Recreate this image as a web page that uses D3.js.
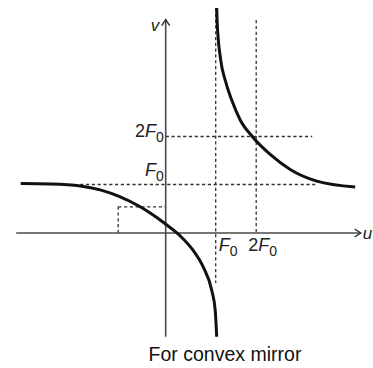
<!DOCTYPE html>
<html>
<head>
<meta charset="utf-8">
<script src="https://cdn.jsdelivr.net/npm/d3@7"></script>
<style>
html,body{margin:0;padding:0;background:#fff;}
svg{display:block;font-family:"Liberation Sans",Arial,Helvetica,sans-serif;}
</style>
</head>
<body>
<svg id="chart" width="373" height="368"></svg>
<script>
// Right branch of the v–u curve (u, v in units of F0)
const rightBranch = [
  [1.02, 4.64], [1.03, 4.33], [1.10, 3.57], [1.19, 3.15], [1.32, 2.74],
  [1.49, 2.33], [1.74, 1.98], [2.09, 1.62], [2.49, 1.31], [3.02, 1.07], [3.79, 0.95]
];
// Left branch
const leftBranch = [
  [-2.90, 1.02], [-2.31, 1.01], [-1.71, 0.97], [-1.31, 0.89], [-0.92, 0.75],
  [-0.51, 0.54], [-0.31, 0.41], [-0.01, 0.19], [0.29, -0.06], [0.55, -0.36],
  [0.75, -0.70], [0.92, -1.18], [0.99, -1.59], [1.02, -2.14]
];
// Tick positions (in F0 units) and labels
const xTickValues = [1, 1.81];
const xTickLabels = [["", "F", "0"], ["2", "F", "0"]];
const yTickValues = [1, 1.99];
const yTickLabels = [["", "F", "0"], ["2", "F", "0"]];
// Guide lines: [u1, v1, u2, v2]
const guides = [
  [1, 4.64, 1, -1.03],      // u = F0 vertical
  [1.81, 4.39, 1.81, 0],    // u = 2F0 vertical
  [-1.71, 1, 2.99, 1],      // v = F0 horizontal
  [0, 1.99, 2.93, 1.99],    // v = 2F0 horizontal
  [-0.95, 0, -0.95, 0.54],  // small box vertical
  [-0.95, 0.54, 0, 0.54]    // small box horizontal
];
const axisExtent = { uMin: -2.99, uMax: 3.9, vMin: -2.14, vMax: 4.4 };
const caption = "For convex mirror";

const svg = d3.select("#chart");
const x = d3.scaleLinear().domain([-3, 4]).range([15.7, 365.7]);
const y = d3.scaleLinear().domain([-2.2, 4.7]).range([339.7, 5.05]);

// dashed guides
svg.append("g").selectAll("line").data(guides).join("line")
  .attr("x1", d => x(d[0])).attr("y1", d => y(d[1]))
  .attr("x2", d => x(d[2])).attr("y2", d => y(d[3]))
  .attr("stroke", "#333").attr("stroke-width", 1.3)
  .attr("stroke-dasharray", "3.2,2.6");

// axes
const axisColor = "#4a4a4a";
svg.append("line")
  .attr("x1", x(axisExtent.uMin)).attr("x2", x(axisExtent.uMax))
  .attr("y1", y(0)).attr("y2", y(0))
  .attr("stroke", axisColor).attr("stroke-width", 1.6);
svg.append("line")
  .attr("x1", x(0)).attr("x2", x(0))
  .attr("y1", y(axisExtent.vMin)).attr("y2", y(axisExtent.vMax))
  .attr("stroke", axisColor).attr("stroke-width", 1.6);
// arrowheads
const ax = x(axisExtent.uMax), ay = y(0);
svg.append("path")
  .attr("d", `M${ax-6},${ay-4}L${ax},${ay}L${ax-6},${ay+4}`)
  .attr("fill", "none").attr("stroke", "#333").attr("stroke-width", 1.5);
const bx = x(0), by = y(axisExtent.vMax);
svg.append("path")
  .attr("d", `M${bx-4},${by+6}L${bx},${by}L${bx+4},${by+6}`)
  .attr("fill", "none").attr("stroke", "#333").attr("stroke-width", 1.5);

// axis letters
svg.append("text").attr("x", ax + 2).attr("y", ay + 6)
  .attr("font-size", 17).attr("font-style", "italic").attr("fill", "#222").text("u");
svg.append("text").attr("x", bx - 15).attr("y", by + 11)
  .attr("font-size", 17).attr("font-style", "italic").attr("fill", "#222").text("v");

// curves
const line = d3.line().x(d => x(d[0])).y(d => y(d[1])).curve(d3.curveMonotoneX);
[rightBranch, leftBranch].forEach(b => {
  svg.append("path").attr("d", line(b))
    .attr("fill", "none").attr("stroke", "#111").attr("stroke-width", 3)
    .attr("stroke-linecap", "butt");
});

function label(g, parts) {
  g.append("tspan").text(parts[0]);
  g.append("tspan").attr("font-style", "italic").text(parts[1]);
  g.append("tspan").attr("font-size", 14).attr("dy", 5).text(parts[2]);
}

// x tick labels
xTickValues.forEach((v, i) => {
  const t = svg.append("text").attr("x", x(v) + (i === 0 ? 3 : -8)).attr("y", y(0) + 18)
    .attr("font-size", 18).attr("fill", "#222");
  label(t, xTickLabels[i]);
});
// y tick labels
yTickValues.forEach((v, i) => {
  const t = svg.append("text").attr("x", x(0) - 2).attr("y", y(v) + (i === 0 ? -9 : 1))
    .attr("font-size", 18).attr("fill", "#222").attr("text-anchor", "end");
  label(t, yTickLabels[i]);
});

// caption
svg.append("text").attr("x", 225).attr("y", 361)
  .attr("text-anchor", "middle").attr("font-size", 19.5).attr("fill", "#111")
  .text(caption);
</script>
</body>
</html>
